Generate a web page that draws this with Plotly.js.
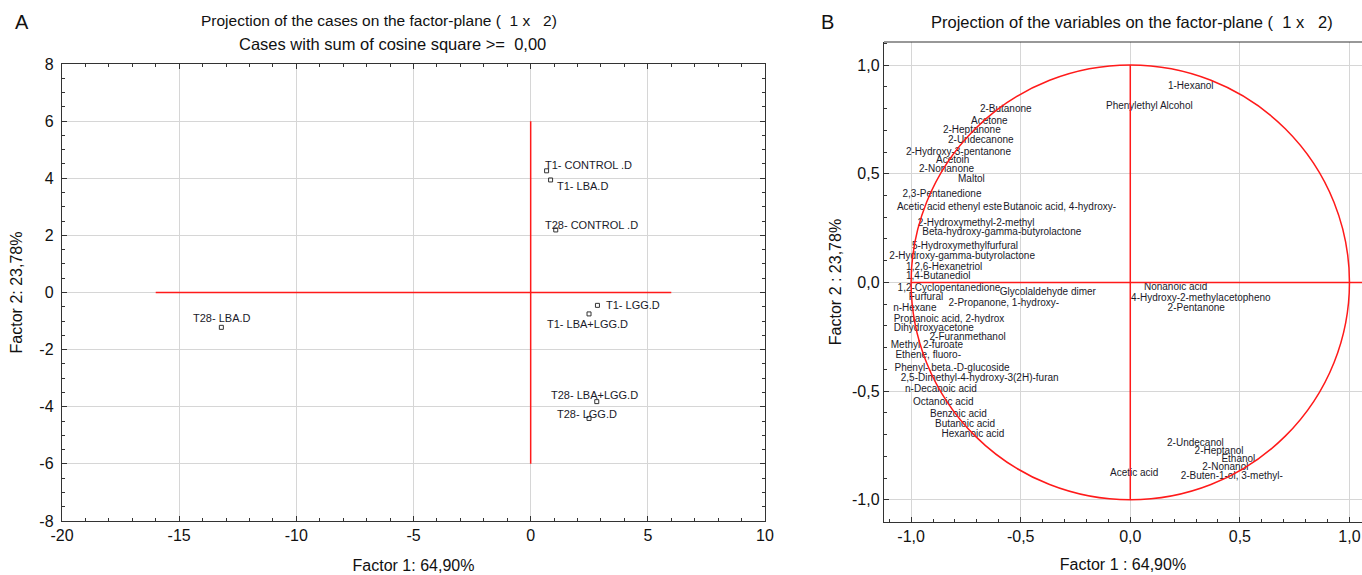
<!DOCTYPE html>
<html><head><meta charset="utf-8">
<script src="https://cdn.plot.ly/plotly-3.0.1.min.js"></script>
<style>html,body{margin:0;padding:0;background:#fff}#c{width:1362px;height:575px}</style>
</head><body><div id="c"></div>
<script>
// ---- Panel A: cases ----
const caseNames = ["T1- CONTROL .D","T1- LBA.D","T28- CONTROL .D","T1- LGG.D","T1- LBA+LGG.D","T28- LBA+LGG.D","T28- LGG.D","T28- LBA.D"];
const caseF1 = [0.68, 0.85, 1.07, 2.85, 2.49, 2.82, 2.49, -13.2];
const caseF2 = [4.26, 3.94, 2.19, -0.45, -0.75, -3.82, -4.41, -1.22];
const aXTicks = [-20, -15, -10, -5, 0, 5, 10];
const aXLabels = ["-20", "-15", "-10", "-5", "0", "5", "10"];
const aYTicks = [-8, -6, -4, -2, 0, 2, 4, 6, 8];
const aYLabels = ["-8", "-6", "-4", "-2", "0", "2", "4", "6", "8"];

// ---- Panel B: variables ----
const varNames = ["1-Hexanol","Phenylethyl Alcohol","2-Butanone","Acetone","2-Heptanone","2-Undecanone","2-Hydroxy-3-pentanone","Acetoin","2-Nonanone","Maltol","2,3-Pentanedione","Acetic acid ethenyl este","Butanoic acid, 4-hydroxy-","2-Hydroxymethyl-2-methyl","Beta-hydroxy-gamma-butyrolactone","5-Hydroxymethylfurfural","2-Hydroxy-gamma-butyrolactone","1,2,6-Hexanetriol","1,4-Butanediol","1,2-Cyclopentanedione","Glycolaldehyde dimer","Furfural","2-Propanone, 1-hydroxy-","n-Hexane","Propanoic acid, 2-hydrox","Dihydroxyacetone","2-Furanmethanol","Methyl 2-furoate","Ethene, fluoro-","Phenyl-.beta.-D-glucoside","2,5-Dimethyl-4-hydroxy-3(2H)-furan","n-Decanoic acid","Octanoic acid","Benzoic acid","Butanoic acid","Hexanoic acid","Nonanoic acid","4-Hydroxy-2-methylacetopheno","2-Pentanone","2-Undecanol","2-Heptanol","Ethanol","2-Nonanol","2-Buten-1-ol, 3-methyl-","Acetic acid"];
const varF1 = [0.276,0.087,-0.568,-0.643,-0.723,-0.682,-0.784,-0.810,-0.838,-0.725,-0.859,-0.825,-0.322,-0.703,-0.586,-0.754,-0.767,-0.849,-0.876,-0.827,-0.376,-0.932,-0.577,-0.983,-0.827,-0.896,-0.742,-0.928,-0.922,-0.813,-0.687,-0.864,-0.853,-0.784,-0.754,-0.718,0.207,0.322,0.301,0.297,0.405,0.493,0.434,0.463,0.018];
const varF2 = [0.903,0.808,0.795,0.740,0.697,0.653,0.596,0.561,0.520,0.474,0.406,0.345,0.345,0.271,0.231,0.167,0.118,0.068,0.029,-0.029,-0.045,-0.068,-0.098,-0.120,-0.170,-0.213,-0.253,-0.290,-0.336,-0.397,-0.443,-0.492,-0.550,-0.606,-0.653,-0.699,-0.024,-0.075,-0.120,-0.742,-0.778,-0.814,-0.852,-0.891,-0.878];
const bTicks = [-1, -0.5, 0, 0.5, 1];
const bLabels = ["-1,0", "-0,5", "0,0", "0,5", "1,0"];

// label offsets for case labels (pixels): style only
const labDX = [-2, 6, -11, 9, -42, -46, -32, -28];
const labDY = [6, -6, 5, 0, -10, 7, 4, 9];

const FONT = "Liberation Sans, Arial, sans-serif";
const RED = "#ff1a1a";
const W = 1362, H = 575;
const px = v => v / W, py = v => 1 - v / H;

const traces = [
  {x: caseF1, y: caseF2, mode: "markers", type: "scatter", xaxis: "x", yaxis: "y",
   marker: {symbol: "square-open", size: 4, color: "#333", line: {width: 1}}, hoverinfo: "text", text: caseNames},
  {x: varF1, y: varF2, mode: "text", type: "scatter", xaxis: "x2", yaxis: "y2",
   text: varNames, textposition: "middle center", textfont: {family: FONT, size: 10, color: "#1a1a2a"}, cliponaxis: false}
];

const annotations = caseNames.map((n, i) => ({
  x: caseF1[i], y: caseF2[i], xref: "x", yref: "y", text: n, showarrow: false,
  xanchor: "left", yanchor: "middle", xshift: labDX[i] - 2, yshift: labDY[i],
  font: {family: FONT, size: 11, color: "#1a1a2a"}
}));
const TF = {family: FONT, size: 15.5, color: "#111"};
const TF2 = {family: FONT, size: 16.5, color: "#111"};
annotations.push(
  {x: px(22), y: py(22), xref: "paper", yref: "paper", text: "A", showarrow: false, xanchor: "center", yanchor: "middle", font: {family: FONT, size: 20, color: "#111"}},
  {x: px(828), y: py(22), xref: "paper", yref: "paper", text: "B", showarrow: false, xanchor: "center", yanchor: "middle", font: {family: FONT, size: 20, color: "#111"}},
  {x: px(378.5), y: py(21), xref: "paper", yref: "paper", text: "Projection of the cases on the factor-plane (  1 x   2)", showarrow: false, xanchor: "center", yanchor: "middle", font: TF},
  {x: px(392.5), y: py(44), xref: "paper", yref: "paper", text: "Cases with sum of cosine square >=  0,00", showarrow: false, xanchor: "center", yanchor: "middle", font: TF2},
  {x: px(1132), y: py(22), xref: "paper", yref: "paper", text: "Projection of the variables on the factor-plane (  1 x   2)", showarrow: false, xanchor: "center", yanchor: "middle", font: TF2}
);

const shapes = [
  {type: "line", xref: "x", yref: "y", x0: -16, x1: 6, y0: 0, y1: 0, line: {color: RED, width: 1.5}},
  {type: "line", xref: "x", yref: "y", x0: 0, x1: 0, y0: -6, y1: 6, line: {color: RED, width: 1.5}},
  {type: "circle", xref: "x2", yref: "y2", x0: -1, x1: 1, y0: -1, y1: 1, line: {color: RED, width: 1.5}},
  {type: "line", xref: "x2", yref: "y2", x0: -1, x1: 1.1, y0: 0, y1: 0, line: {color: RED, width: 1.5}},
  {type: "line", xref: "x2", yref: "y2", x0: 0, x1: 0, y0: -1, y1: 1, line: {color: RED, width: 1.5}},
  {type: "line", xref: "x2 domain", yref: "y2 domain", x0: 0, x1: 1, y0: 1, y1: 1, line: {color: "#333", width: 1.2}}
];

const axBase = {
  showline: true, linecolor: "#333", linewidth: 1.2, ticks: "inside", ticklen: 5, tickcolor: "#333",
  showgrid: true, gridcolor: "#d6d6d6", gridwidth: 1, zeroline: false, tickmode: "array",
  tickfont: {family: FONT, size: 16, color: "#111"}, fixedrange: true
};
const minorB = d => ({dtick: d, tick0: 0, ticks: "inside", ticklen: 3, tickcolor: "#333", showgrid: false});
const AF = {family: FONT, size: 16, color: "#111"};

const layout = {
  width: W, height: H, margin: {l: 0, r: 0, t: 0, b: 0}, showlegend: false,
  paper_bgcolor: "#fff", plot_bgcolor: "#fff",
  xaxis: Object.assign({}, axBase, {domain: [px(62), px(765)], range: [-20, 10], tickvals: aXTicks, ticktext: aXLabels, mirror: "ticks",
    minor: minorB(1), title: {text: "Factor 1: 64,90%", font: AF, standoff: 16}}),
  yaxis: Object.assign({}, axBase, {domain: [py(521), py(64)], range: [-8, 8], tickvals: aYTicks, ticktext: aYLabels, mirror: "ticks", ticklabelstandoff: 4,
    minor: minorB(0.5), title: {text: "Factor 2: 23,78%", font: AF, standoff: 12}}),
  xaxis2: Object.assign({}, axBase, {anchor: "y2", domain: [px(884), 1], range: [-1.1236, 1.0572], tickvals: bTicks, ticktext: bLabels,
    minor: minorB(0.1), title: {text: "Factor 1 : 64,90%", font: AF, standoff: 14}}),
  yaxis2: Object.assign({}, axBase, {anchor: "x2", domain: [py(522), py(42)], range: [-1.102, 1.106], tickvals: bTicks, ticktext: bLabels,
    minor: minorB(0.1), title: {text: "Factor 2 : 23,78%", font: AF, standoff: 6}}),
  annotations: annotations, shapes: shapes
};

Plotly.newPlot("c", traces, layout, {displayModeBar: false, staticPlot: true});
</script></body></html>
